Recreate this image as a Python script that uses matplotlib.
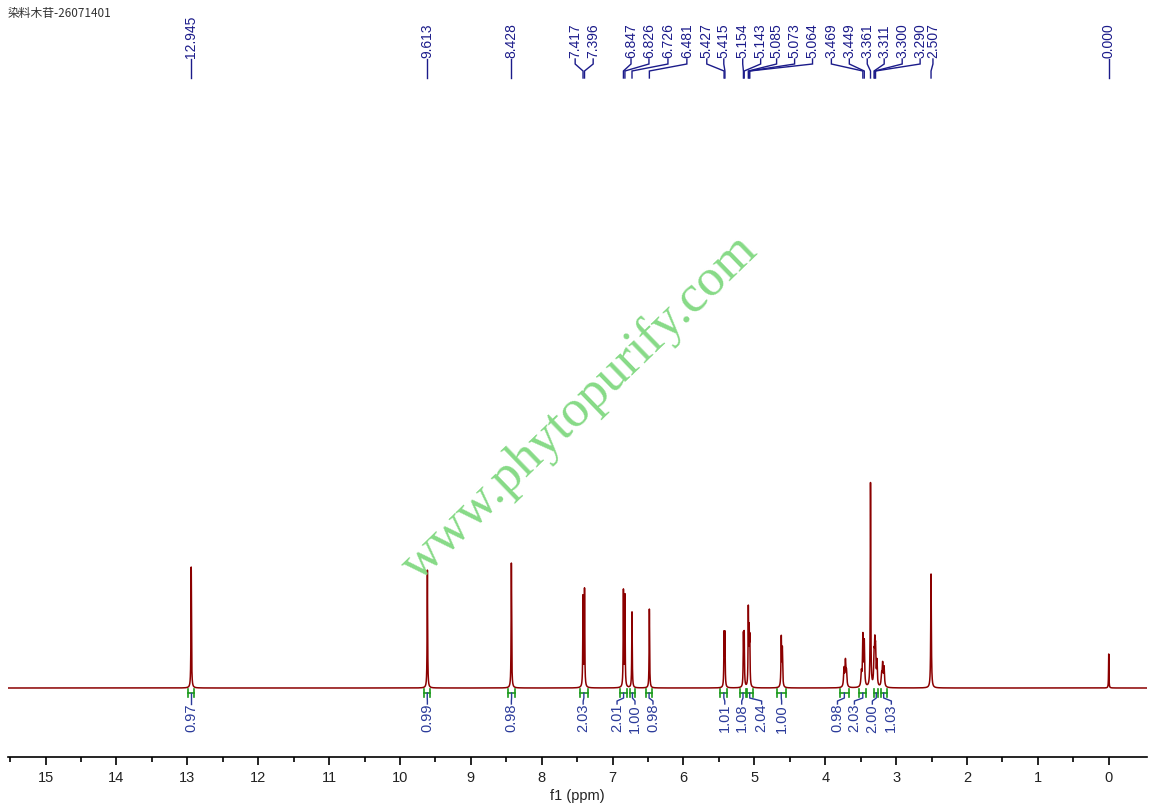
import matplotlib.pyplot as plt
import numpy as np

title = '染料木苷-26071401'

# line list of the spectrum: shift (ppm), height (arbitrary units), half width (ppm)
peak_ppm = [12.945, 9.613, 8.428, 7.417, 7.396, 6.847, 6.826, 6.726, 6.481,
            5.427, 5.415, 5.154, 5.143, 5.085, 5.073, 5.064, 4.620, 4.605,
            3.735, 3.715, 3.700, 3.490, 3.469, 3.449, 3.361, 3.311, 3.300,
            3.290, 3.270, 3.205, 3.190, 3.170, 2.507, 0.000]
peak_height = [121, 118, 125, 90, 97, 96, 91, 76, 79,
               52, 52, 50, 51, 76, 50, 44, 49, 37,
               18, 25, 14, 14, 50, 44, 204, 28, 36,
               32, 24, 11, 22, 19, 114, 34]
peak_width = [0.004, 0.004, 0.004, 0.004, 0.004, 0.004, 0.004, 0.004, 0.004,
              0.004, 0.004, 0.004, 0.004, 0.004, 0.004, 0.004, 0.005, 0.005,
              0.007, 0.007, 0.007, 0.007, 0.006, 0.006, 0.004, 0.006, 0.006,
              0.006, 0.006, 0.007, 0.007, 0.007, 0.005, 0.003]

# picked peaks shown at the top
label_ppm = [12.945, 9.613, 8.428, 7.417, 7.396, 6.847, 6.826, 6.726, 6.481,
             5.427, 5.415, 5.154, 5.143, 5.085, 5.073, 5.064, 3.469, 3.449,
             3.361, 3.311, 3.300, 3.290, 2.507, 0.000]

# integrals
integral_ranges = [(12.99, 12.90), (9.66, 9.57), (8.47, 8.38), (7.46, 7.35),
                   (6.89, 6.80), (6.76, 6.68), (6.53, 6.44), (5.48, 5.38),
                   (5.20, 5.12), (5.11, 5.02), (4.68, 4.56), (3.79, 3.67),
                   (3.52, 3.42), (3.31, 3.25), (3.22, 3.13)]
integral_values = ['0.97', '0.99', '0.98', '2.03', '2.01', '1.00', '0.98', '1.01',
                   '1.08', '2.04', '1.00', '0.98', '2.03', '2.00', '1.03']

# layout: where the crowded labels are spread to (ppm)
label_pos = [12.945, 9.613, 8.428, 7.528, 7.274, 6.740, 6.487, 6.219, 5.952,
             5.671, 5.431, 5.164, 4.911, 4.686, 4.432, 4.179, 3.913, 3.660,
             3.407, 3.168, 2.914, 2.661, 2.480, 0.000]
integral_pos = [12.945, 9.613, 8.428, 7.415, 6.937, 6.684, 6.430, 5.417,
                5.178, 4.897, 4.615, 3.827, 3.588, 3.335, 3.067]

W, H = 1151, 807
fig = plt.figure(figsize=(W / 100, H / 100), dpi=100)
ax_bottom = 757
ax = fig.add_axes([8 / W, (H - ax_bottom) / H, (1147 - 8) / W, ax_bottom / H])

base_px = 688  # baseline in pixels from top
def ypx(p):
    return base_px - p

x = np.linspace(15.53, -0.54, 40000)
y = np.zeros_like(x)
for c, h, w in zip(peak_ppm, peak_height, peak_width):
    y += h / (1 + ((x - c) / w) ** 2)

ax.plot(x, y, color='#8b0000', lw=1.1, zorder=3)
ax.set_xlim(15.53, -0.54)
ax.set_ylim(ypx(ax_bottom), ypx(0))

for s in ['top', 'left', 'right']:
    ax.spines[s].set_visible(False)
ax.spines['bottom'].set_linewidth(1.2)
ax.set_yticks([])
ax.set_xticks(np.arange(0, 16, 1))
ax.set_xticks(np.arange(0.5, 15.6, 1), minor=True)
ax.tick_params(axis='x', which='major', direction='out', length=6, width=1.2,
               pad=4, labelsize=10.5, labelcolor='#222222')
ax.tick_params(axis='x', which='minor', direction='out', length=3.5, width=1.2)
for t in ax.get_xticklabels():
    t.set_family('Liberation Sans')
ax.set_xlabel('f1 (ppm)', family='Liberation Sans', fontsize=10.5,
              color='#222222', labelpad=3)

# peak labels
navy = '#1b1b8a'
for v, lx in zip(label_ppm, label_pos):
    ax.text(lx, ypx(58), f'{v:.3f}', rotation=90, ha='center', va='bottom',
            fontsize=10, family='Liberation Sans', color=navy)
    ax.plot([lx, lx, v, v], [ypx(59), ypx(64), ypx(71), ypx(78)],
            color=navy, lw=1, solid_joinstyle='miter')

# integrals
green = '#1a9a1a'
blue = '#2a3a9a'
for (a, b), val, lx in zip(integral_ranges, integral_values, integral_pos):
    ax.plot([a, b], [ypx(693), ypx(693)], color=green, lw=1.2)
    ax.plot([a, a], [ypx(689), ypx(697)], color=green, lw=1.2)
    ax.plot([b, b], [ypx(689), ypx(697)], color=green, lw=1.2)
    bx = (a + b) / 2
    ax.plot([bx, bx, lx, lx], [ypx(693), ypx(698), ypx(701), ypx(704)],
            color=blue, lw=1)
    ax.text(lx, ypx(704), val, rotation=90, ha='center', va='top',
            fontsize=10.5, family='Liberation Sans', color=blue)

# watermark
fig.text(580 / W, 1 - 408 / H, 'www.phytopurify.com', rotation=44,
         rotation_mode='anchor', ha='center', va='center', fontsize=38,
         family='Liberation Serif', color='#80d880', alpha=0.95)

fig.text(8 / W, 1 - 14 / H, title, ha='left', va='center', fontsize=8.5,
         family=['Noto Sans CJK SC', 'DejaVu Sans'], color='#333333')

plt.savefig('out.png', dpi=100)
